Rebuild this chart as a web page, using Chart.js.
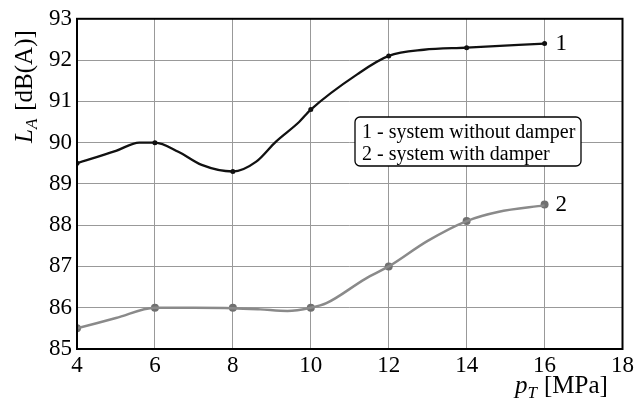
<!DOCTYPE html>
<html>
<head>
<meta charset="utf-8">
<script src="https://cdn.jsdelivr.net/npm/chart.js@4"></script>
<style>
  body { margin: 0; background: #fff; }
  #wrap { width: 637px; height: 400px; }
</style>
</head>
<body>
<div id="wrap"><canvas id="noiseChart"></canvas></div>
<script>
// tick values
const xTicks = [4, 6, 8, 10, 12, 14, 16, 18];
const yTicks = [85, 86, 87, 88, 89, 90, 91, 92, 93];

// measured points (markers)
const markX = [4, 6, 8, 10, 12, 14, 16];
const noDamperY = [89.5, 90.0, 89.3, 90.8, 92.1, 92.3, 92.4];
const withDamperY = [85.5, 86.0, 86.0, 86.0, 87.0, 88.1, 88.5];

// curve traced through the picture
const noDamperCurveX = [4, 5, 5.6, 6, 6.6, 7.2, 8, 8.6, 9.1, 9.7, 10, 11.2, 12, 12.9, 14, 16];
const noDamperCurveY = [89.5, 89.8, 90.0, 90.0, 89.78, 89.46, 89.3, 89.54, 90.02, 90.5, 90.8, 91.66, 92.1, 92.25, 92.3, 92.4];
const withDamperCurveX = [4, 5, 6, 7, 8, 8.7, 9.4, 10, 10.4, 11.4, 12, 13, 14, 14.8, 16];
const withDamperCurveY = [85.5, 85.75, 86.0, 86.0, 85.99, 85.96, 85.92, 86.0, 86.11, 86.7, 87.0, 87.62, 88.1, 88.32, 88.48];

const legendLines = ['1 - system without damper', '2 - system with damper'];
const seriesTags = ['1', '2'];

const SERIF = '"Liberation Serif", "DejaVu Serif", serif';
const toPts = (xs, ys) => xs.map((x, i) => ({ x: x, y: ys[i] }));

const decorations = {
  id: 'decorations',
  afterDraw(chart) {
    const ctx = chart.ctx;
    const a = chart.chartArea;
    const xs = chart.scales.x, ys = chart.scales.y;

    // full frame
    ctx.save();
    ctx.strokeStyle = '#000';
    ctx.lineWidth = 2;
    ctx.strokeRect(a.left, a.top, a.right - a.left, a.bottom - a.top);

    // series tags next to the last points
    ctx.fillStyle = '#000';
    ctx.font = '23px ' + SERIF;
    ctx.textBaseline = 'middle';
    ctx.textAlign = 'left';
    const last = markX.length - 1;
    ctx.fillText(seriesTags[0], xs.getPixelForValue(markX[last]) + 11, ys.getPixelForValue(noDamperY[last]));
    ctx.fillText(seriesTags[1], xs.getPixelForValue(markX[last]) + 11, ys.getPixelForValue(withDamperY[last]));

    // legend box
    const bx = 355, by = 117, bw = 226, bh = 49;
    ctx.fillStyle = '#fff';
    ctx.beginPath();
    ctx.roundRect(bx, by, bw, bh, 5);
    ctx.fill();
    ctx.lineWidth = 1.3;
    ctx.stroke();
    ctx.fillStyle = '#000';
    ctx.font = '20px ' + SERIF;
    ctx.textBaseline = 'alphabetic';
    ctx.fillText(legendLines[0], 362, 138);
    ctx.fillText(legendLines[1], 362, 160);

    // x title: p_T [MPa]
    let x = 515;
    const base = 393;
    ctx.font = 'italic 25px ' + SERIF;
    ctx.fillText('p', x, base);
    x += ctx.measureText('p').width;
    ctx.font = 'italic 17px ' + SERIF;
    ctx.fillText('T', x, base + 5);
    x += ctx.measureText('T').width + 7;
    ctx.font = '25px ' + SERIF;
    ctx.fillText('[MPa]', x, base);

    // y title: L_A [dB(A)], rotated
    ctx.translate(32, 143);
    ctx.rotate(-Math.PI / 2);
    let t = 0;
    ctx.font = 'italic 25px ' + SERIF;
    ctx.fillText('L', t, 0);
    t += ctx.measureText('L').width;
    ctx.font = 'italic 17px ' + SERIF;
    ctx.fillText('A', t, 5);
    t += ctx.measureText('A').width + 8;
    ctx.font = '25px ' + SERIF;
    ctx.fillText('[dB(A)]', t, 0);
    ctx.restore();
  }
};

new Chart(document.getElementById('noiseChart'), {
  type: 'line',
  data: {
    datasets: [
      {
        data: toPts(noDamperCurveX, noDamperCurveY),
        borderColor: '#111',
        borderWidth: 2.3,
        pointRadius: 0,
        cubicInterpolationMode: 'monotone'
      },
      {
        data: toPts(markX, noDamperY),
        showLine: false,
        pointRadius: 2.5,
        pointBackgroundColor: '#111',
        pointBorderWidth: 0
      },
      {
        data: toPts(withDamperCurveX, withDamperCurveY),
        borderColor: '#8a8a8a',
        borderWidth: 2.5,
        pointRadius: 0,
        cubicInterpolationMode: 'monotone'
      },
      {
        data: toPts(markX, withDamperY),
        showLine: false,
        pointRadius: 4,
        pointBackgroundColor: '#707070',
        pointBorderWidth: 0
      }
    ]
  },
  options: {
    responsive: true,
    maintainAspectRatio: false,
    animation: false,
    layout: { padding: { top: 16, right: 12, left: 0, bottom: 0 } },
    plugins: {
      legend: { display: false },
      tooltip: { enabled: false }
    },
    scales: {
      x: {
        type: 'linear',
        min: xTicks[0],
        max: xTicks[xTicks.length - 1],
        afterBuildTicks: (s) => { s.ticks = xTicks.map(v => ({ value: v })); },
        afterFit: (s) => { s.height = 51; },
        grid: { color: '#999', lineWidth: 1, tickLength: 0 },
        border: { display: false },
        ticks: {
          padding: 3,
          color: '#000',
          font: { family: SERIF, size: 23 },
          maxRotation: 0
        }
      },
      y: {
        min: yTicks[0],
        max: yTicks[yTicks.length - 1],
        afterBuildTicks: (s) => { s.ticks = yTicks.map(v => ({ value: v })); },
        afterFit: (s) => { s.width = 77; },
        grid: { color: '#999', lineWidth: 1, tickLength: 0 },
        border: { display: false },
        ticks: {
          padding: 5,
          color: '#000',
          font: { family: SERIF, size: 23 }
        }
      }
    }
  },
  plugins: [decorations]
});
</script>
</body>
</html>
